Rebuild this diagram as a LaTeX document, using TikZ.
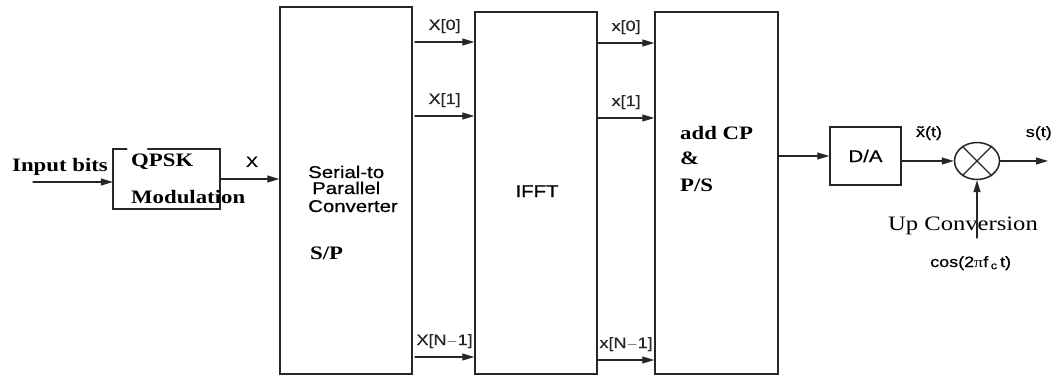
\documentclass[tikz,border=0pt]{standalone}
\usepackage{fontspec}
\setmainfont{Liberation Serif}[FakeStretch=1.2]
\newfontfamily\diagsans{Liberation Sans}[FakeStretch=1.2, FakeBold=0.6]
\usepackage{tikz}
\usetikzlibrary{arrows.meta,shapes.geometric}
\tikzset{
  blk/.style={draw=black!85, line width=1.5pt, inner sep=0pt},
  sig/.style={->, black!85, line width=1.2pt},
  serb/.style={font=\fontsize{19}{22}\selectfont\bfseries, inner sep=0pt},
  sanstxt/.style={font=\diagsans\fontsize{17}{20}\selectfont, inner sep=0pt},
  lbl/.style={font=\diagsans\fontsize{15}{18}\selectfont, inner sep=0pt}
}
\begin{document}
\begin{tikzpicture}[x=1pt, y=-1pt, >={Triangle[length=12pt, width=7pt]}, line cap=round]
\useasboundingbox (0,0) rectangle (1053,377);
% blocks
\node[inner sep=0pt, minimum width=107pt, minimum height=60pt] (qpsk) at (166.5,179) {};
\draw[black!85, line width=1.5pt] ([xshift=14pt]qpsk.north west) -| (qpsk.south west) -| (qpsk.north east) -- ([xshift=35pt]qpsk.north west);
\node[blk, minimum width=132pt, minimum height=367pt] (sp) at (346,190.5) {};
\node[blk, minimum width=122pt, minimum height=362pt] (ifft) at (536,193) {};
\node[blk, minimum width=123pt, minimum height=362pt] (cp) at (716.5,193) {};
\node[blk, minimum width=71pt, minimum height=58pt, sanstxt] (da) at (865.5,156) {D/A};
\node[blk, ellipse, minimum width=45pt, minimum height=37pt] (mix) at (977,161) {};
\draw[black!85, line width=1.2pt] (mix.45) -- (mix.225) (mix.135) -- (mix.315);
% texts
\node[serb, anchor=base west] (inbits) at (12,172) {Input bits};
\node[serb, anchor=base west] (qpsk1) at (131,167) {QPSK};
\node[serb, anchor=base west] (qpsk2) at (131,204) {Modulation};
\node[lbl, anchor=base] (xin) at (252,167) {X};
\node[sanstxt, anchor=base west] (sp1) at (308,178) {Serial-to};
\node[sanstxt, anchor=base west] (sp2) at (312,194) {Parallel};
\node[sanstxt, anchor=base west] (sp3) at (308,212) {Converter};
\node[serb, anchor=base west] (sp4) at (310,259) {S/P};
\node[sanstxt, anchor=base] (ifftlab) at (537,197) {IFFT};
\node[serb, anchor=base west] (cp1) at (680,140) {add CP};
\node[serb, anchor=base west] (cp2) at (680,165) {\&};
\node[serb, anchor=base west] (cp3) at (680,192) {P/S};
\node[lbl, anchor=base] (xt) at (929,137) {\~{x}(t)};
\node[lbl, anchor=base east] (st) at (1052,137) {s(t)};
\node[font=\fontsize{20.5}{24}\selectfont, inner sep=0pt, anchor=base west] (upc) at (888,230) {Up Conversion};
\node[lbl, anchor=base west] (cosl) at (930,267) {cos(2{\rmfamily π}f\,\textsubscript{c}\,t)};
% connectors
\coordinate (in) at (33,182);
\draw[sig] (in) -- (in -| qpsk.west);
\draw[sig] (qpsk.east) -- (qpsk.east -| sp.west);
\foreach \y/\lab [count=\i] in {42/{X[0]}, 116/{X[1]}, 357/{X[N$-$1]}} {
  \coordinate (a\i) at (415,\y);
  \draw[sig] (a\i) -- (a\i -| ifft.west) node[lbl, midway, anchor=base, yshift=12pt] (la\i) {\lab};
}
\foreach \y/\lab [count=\i] in {43/{x[0]}, 118/{x[1]}, 360/{x[N$-$1]}} {
  \coordinate (b\i) at (598,\y);
  \draw[sig] (b\i) -- (b\i -| cp.west) node[lbl, midway, anchor=base, yshift=12pt] (lb\i) {\lab};
}
\draw[sig] (da.west -| cp.east) -- (da.west);
\draw[sig] (da.east |- mix.west) -- (mix.west);
\coordinate (out) at (1048,161);
\draw[sig] (mix.east) -- (out);
\coordinate (lo) at (977,238);
\draw[sig] (lo) -- (mix.south);
\end{tikzpicture}
\end{document}
